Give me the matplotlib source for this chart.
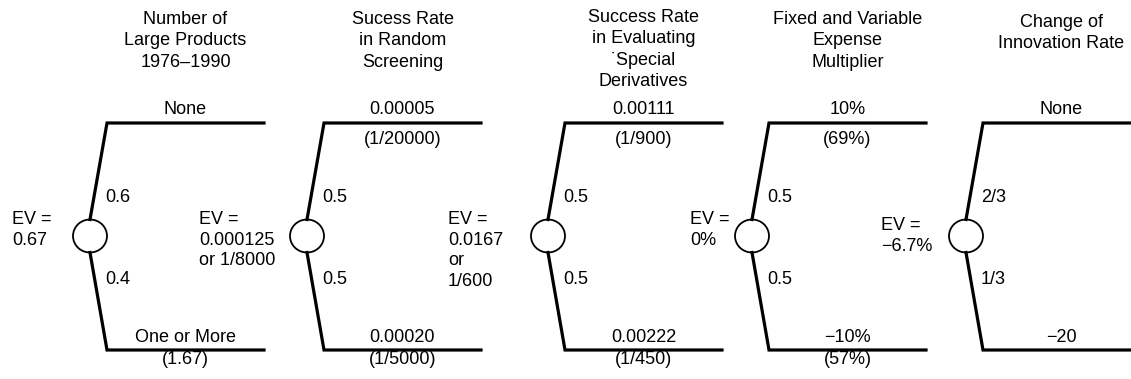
import matplotlib
matplotlib.use('Agg')
import matplotlib.pyplot as plt
from matplotlib.patches import Ellipse

plt.rcParams['font.family'] = ['Liberation Sans', 'DejaVu Sans']
plt.rcParams['font.size'] = 13

# decision tree content, one entry per chance node
titles = ['Number of\nLarge Products\n1976\u20131990',
          'Sucess Rate\nin Random\nScreening',
          'Success Rate\nin Evaluating\n\u02d9Special\nDerivatives',
          'Fixed and Variable\nExpense\nMultiplier',
          'Change of\nInnovation Rate']
top_labels = ['None', '0.00005', '0.00111', '10%', 'None']
top_sub = ['', '(1/20000)', '(1/900)', '(69%)', '']
bot_labels = ['One or More', '0.00020', '0.00222', '\u221210%', '\u221220']
bot_sub = ['(1.67)', '(1/5000)', '(1/450)', '(57%)', '']
p_top = ['0.6', '0.5', '0.5', '0.5', '2/3']
p_bot = ['0.4', '0.5', '0.5', '0.5', '1/3']
ev_texts = ['EV =\n0.67', 'EV =\n0.000125\nor 1/8000', 'EV =\n0.0167\nor\n1/600',
            'EV =\n0%', 'EV =\n\u22126.7%']

# layout (pixel coordinates)
node_x = [90, 307, 548, 752, 966]
ev_x = [12, 199, 448, 690, 881]
title_y = [11, 11, 9, 11, 14]
node_y = 236
r = 16.5
y_top = 123
y_bot = 350
seg_len = 157

fig = plt.figure(figsize=(11.31, 3.79), dpi=100)
ax = fig.add_axes([0, 0, 1, 1])
ax.set_xlim(0, 1131)
ax.set_ylim(379, 0)
ax.axis('off')

for i in range(len(titles)):
    cx = node_x[i]
    x0 = cx + 17
    x1 = x0 + seg_len
    xm = (x0 + x1) / 2
    lw = 2.3
    ax.plot([cx, x0, x1], [node_y - r, y_top, y_top], color='black', lw=lw,
            solid_joinstyle='miter')
    ax.plot([cx, x0, x1], [node_y + r, y_bot, y_bot], color='black', lw=lw,
            solid_joinstyle='miter')
    ax.add_patch(Ellipse((cx, node_y), 2 * r + 1, 2 * r, fill=False, lw=1.3,
                         color='black'))

    ax.text(xm, title_y[i], titles[i], ha='center', va='top', linespacing=1.33)
    ax.text(xm, y_top - 13, top_labels[i], ha='center', va='center')
    if top_sub[i]:
        ax.text(xm, y_top + 17, top_sub[i], ha='center', va='center')
    ax.text(xm, y_bot - 12, bot_labels[i], ha='center', va='center')
    if bot_sub[i]:
        ax.text(xm, y_bot + 9, bot_sub[i], ha='center', va='center')

    ax.text(cx + 15, 197, p_top[i], ha='left', va='center')
    ax.text(cx + 15, 279, p_bot[i], ha='left', va='center')
    ax.text(ev_x[i], 211 + (6 if i == 4 else 0), ev_texts[i], ha='left',
            va='top', linespacing=1.27)

fig.savefig('out.png', dpi=100)
